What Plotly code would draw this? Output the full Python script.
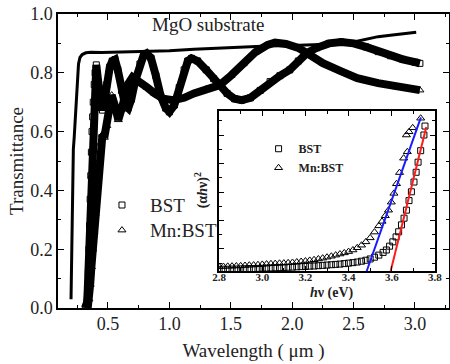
import plotly.graph_objects as go

# ---------------- main panel data ----------------
wl_mgo = [0.199, 0.205, 0.210, 0.215, 0.218, 0.225, 0.232, 0.240, 0.250, 0.260, 0.272, 0.290, 0.32, 0.36,
          0.45, 0.6, 0.8, 1.0, 1.2, 1.4, 1.6, 1.8, 2.0, 2.2, 2.4, 2.5, 2.6, 2.7, 2.8, 2.9, 3.0, 3.01]
t_mgo = [0.03, 0.20, 0.36, 0.50, 0.54, 0.58, 0.64, 0.71, 0.78, 0.83, 0.852, 0.862, 0.868, 0.870,
         0.869, 0.870, 0.872, 0.875, 0.880, 0.884, 0.888, 0.891, 0.893, 0.895, 0.899, 0.905, 0.915, 0.923,
         0.928, 0.932, 0.937, 0.938]

wl_bst = [0.315, 0.322, 0.330, 0.335, 0.340, 0.345, 0.350, 0.355, 0.360, 0.365, 0.370, 0.375, 0.380, 0.388,
          0.395, 0.405, 0.42, 0.44, 0.455, 0.47, 0.49, 0.515, 0.535, 0.557, 0.58, 0.61, 0.64, 0.665, 0.69,
          0.72, 0.76, 0.79, 0.815, 0.85, 0.89, 0.93, 0.97, 1.0, 1.04, 1.08, 1.12, 1.15, 1.18, 1.23, 1.3,
          1.36, 1.41, 1.47, 1.53, 1.59, 1.66, 1.74, 1.82, 1.9, 1.98, 2.05, 2.12, 2.2, 2.3, 2.4, 2.5, 2.6,
          2.7, 2.8, 2.9, 3.0, 3.04]
t_bst = [0.0, 0.005, 0.02, 0.06, 0.12, 0.20, 0.28, 0.37, 0.45, 0.53, 0.60, 0.65, 0.70, 0.76,
         0.80, 0.827, 0.77, 0.69, 0.673, 0.70, 0.76, 0.82, 0.84, 0.845, 0.81, 0.74, 0.69, 0.68, 0.71,
         0.77, 0.83, 0.86, 0.866, 0.85, 0.79, 0.72, 0.68, 0.667, 0.69, 0.75, 0.81, 0.84, 0.849, 0.84, 0.81,
         0.78, 0.758, 0.73, 0.712, 0.707, 0.715, 0.74, 0.77, 0.79, 0.81, 0.84, 0.867, 0.885, 0.90, 0.905,
         0.90, 0.888, 0.872, 0.858, 0.846, 0.836, 0.832]

wl_mn = [0.335, 0.345, 0.355, 0.365, 0.375, 0.385, 0.395, 0.405, 0.415, 0.425, 0.44, 0.455, 0.47, 0.49,
         0.51, 0.53, 0.555, 0.584, 0.62, 0.66, 0.70, 0.76, 0.82, 0.88, 0.95, 1.03, 1.12, 1.2, 1.3, 1.41,
         1.5, 1.6, 1.7, 1.8, 1.86, 1.95, 2.05, 2.12, 2.25, 2.4, 2.53, 2.7, 2.85, 3.04]
t_mn = [0.0, 0.03, 0.08, 0.14, 0.20, 0.26, 0.32, 0.38, 0.44, 0.50, 0.56, 0.59, 0.58, 0.62,
        0.69, 0.724, 0.69, 0.64, 0.69, 0.76, 0.785, 0.77, 0.75, 0.73, 0.712, 0.707, 0.715, 0.73, 0.745, 0.758,
        0.79, 0.83, 0.87, 0.895, 0.903, 0.898, 0.885, 0.867, 0.833, 0.805, 0.782, 0.765, 0.752, 0.741]

# ---------------- inset data ----------------
ev_bst = [2.80, 2.82, 2.84, 2.86, 2.88, 2.90, 2.92, 2.94, 2.96, 2.98, 3.00, 3.02, 3.04, 3.06, 3.08, 3.10,
          3.12, 3.14, 3.16, 3.18, 3.20, 3.22, 3.24, 3.26, 3.28, 3.30, 3.32, 3.34, 3.36, 3.38, 3.40, 3.42,
          3.44, 3.46, 3.48, 3.50, 3.52, 3.54, 3.56, 3.575, 3.59, 3.605, 3.62, 3.632, 3.645, 3.657, 3.668,
          3.68, 3.691, 3.703, 3.713, 3.722, 3.734, 3.749, 3.754]
a_bst = [0.010, 0.011, 0.011, 0.012, 0.012, 0.013, 0.014, 0.015, 0.015, 0.016, 0.017, 0.018, 0.019, 0.020,
         0.021, 0.022, 0.023, 0.024, 0.026, 0.027, 0.028, 0.030, 0.031, 0.033, 0.035, 0.037, 0.039, 0.041,
         0.043, 0.046, 0.049, 0.052, 0.056, 0.061, 0.067, 0.075, 0.086, 0.099, 0.116, 0.131, 0.155, 0.182,
         0.213, 0.245, 0.288, 0.330, 0.380, 0.44, 0.495, 0.556, 0.617, 0.68, 0.752, 0.85, 0.906]

ev_mn = [2.80, 2.82, 2.84, 2.86, 2.88, 2.90, 2.92, 2.94, 2.96, 2.98, 3.00, 3.02, 3.04, 3.06, 3.08, 3.10,
         3.12, 3.14, 3.16, 3.18, 3.20, 3.22, 3.24, 3.26, 3.28, 3.30, 3.32, 3.34, 3.36, 3.38, 3.40, 3.42,
         3.44, 3.46, 3.48, 3.50, 3.52, 3.54, 3.555, 3.57, 3.585, 3.598, 3.61, 3.622, 3.636, 3.655, 3.672,
         3.668, 3.68, 3.697, 3.734]
a_mn = [0.027, 0.028, 0.029, 0.030, 0.031, 0.032, 0.034, 0.036, 0.037, 0.039, 0.041, 0.043, 0.045, 0.046,
        0.048, 0.049, 0.051, 0.053, 0.056, 0.059, 0.062, 0.066, 0.070, 0.075, 0.080, 0.086, 0.092, 0.099,
        0.106, 0.113, 0.121, 0.131, 0.145, 0.161, 0.182, 0.207, 0.243, 0.282, 0.310, 0.345, 0.38, 0.43,
        0.485, 0.545, 0.615, 0.705, 0.745, 0.85, 0.87, 0.895, 0.955]

fit_bst_ev = [3.595, 3.76]
fit_bst_a = [0.0, 0.90]
fit_mn_ev = [3.484, 3.735]
fit_mn_a = [0.0, 0.96]

x_tick_vals = [0.5, 1.0, 1.5, 2.0, 2.5, 3.0]
x_tick_text = ["0.5", "1.0", "1.5", "2.0", "2.5", "3.0"]

SERIF = "Liberation Serif"

fig = go.Figure()
fig.add_trace(go.Scatter(x=wl_mgo, y=t_mgo, mode="lines", line=dict(color="black", width=3),
                         showlegend=False, hoverinfo="skip"))
fig.add_trace(go.Scatter(x=wl_bst, y=t_bst, mode="lines", line=dict(color="black", width=8),
                         showlegend=False, hoverinfo="skip"))
fig.add_trace(go.Scatter(x=wl_mn, y=t_mn, mode="lines", line=dict(color="black", width=8),
                         showlegend=False, hoverinfo="skip"))
fig.add_trace(go.Scatter(x=wl_bst, y=t_bst, mode="markers",
                         name="<span style='font-size:19px'>BST</span>",
                         marker=dict(symbol="square-open", size=6, color="black", line=dict(width=1)),
                         legend="legend"))
fig.add_trace(go.Scatter(x=wl_mn, y=t_mn, mode="markers",
                         name="<span style='font-size:19px'>Mn:BST</span>",
                         marker=dict(symbol="triangle-up-open", size=7, color="black", line=dict(width=1)),
                         legend="legend"))
fig.add_trace(go.Scatter(x=ev_bst, y=a_bst, mode="markers", xaxis="x2", yaxis="y2",
                         name="<span style='font-size:12px'><b>BST</b></span>",
                         marker=dict(symbol="square-open", size=6, color="black", line=dict(width=1)),
                         legend="legend2"))
fig.add_trace(go.Scatter(x=ev_mn, y=a_mn, mode="markers", xaxis="x2", yaxis="y2",
                         name="<span style='font-size:12px'><b>Mn:BST</b></span>",
                         marker=dict(symbol="triangle-up-open", size=7, color="black", line=dict(width=1)),
                         legend="legend2"))
fig.add_trace(go.Scatter(x=fit_bst_ev, y=fit_bst_a, mode="lines", xaxis="x2", yaxis="y2",
                         line=dict(color="#ff1a1a", width=2), showlegend=False))
fig.add_trace(go.Scatter(x=fit_mn_ev, y=fit_mn_a, mode="lines", xaxis="x2", yaxis="y2",
                         line=dict(color="#1a1aff", width=2), showlegend=False))

axis_common = dict(showline=True, linecolor="black", linewidth=1.5, mirror="ticks", ticks="inside",
                   tickcolor="black", showgrid=False, zeroline=False, automargin=False)

fig.update_layout(
    width=450, height=364,
    margin=dict(l=58, r=1, t=14, b=56),
    paper_bgcolor="white", plot_bgcolor="white",
    font=dict(family=SERIF, color="black"),
    xaxis=dict(domain=[0, 1], range=[0.093, 3.277], tickvals=x_tick_vals, ticktext=x_tick_text,
               ticklen=6, tickwidth=1.2,
               minor=dict(ticks="inside", dtick=0.25, tick0=0, ticklen=3, tickcolor="black"),
               tickfont=dict(family=SERIF, size=18, color="#222"),
               title=dict(text="Wavelength ( μm )", font=dict(family=SERIF, size=19, color="#222"), standoff=10),
               ticklabelstandoff=-1, **axis_common),
    yaxis=dict(domain=[0, 1], range=[0, 1.0], dtick=0.2, tickformat=".1f", ticklen=6, tickwidth=1.2,
               minor=dict(ticks="inside", dtick=0.1, ticklen=3, tickcolor="black"),
               tickfont=dict(family=SERIF, size=18, color="#222"),
               title=dict(text="Transmittance", font=dict(family=SERIF, size=19, color="#222"), standoff=2),
               ticklabelstandoff=0, **axis_common),
    xaxis2=dict(domain=[0.412, 0.964], anchor="y2", range=[2.8, 3.8], dtick=0.2, tickformat=".1f",
                ticklen=5, minor=dict(ticks="inside", dtick=0.1, ticklen=3, tickcolor="black"),
                tickfont=dict(family=SERIF, size=11, color="#222", weight="bold"), ticklabelstandoff=-5,
                **axis_common),
    yaxis2=dict(domain=[0.126, 0.670], anchor="x2", range=[0, 1.0], tick0=0.1375, dtick=0.178,
                showticklabels=False, ticklen=5,
                minor=dict(ticks="inside", tick0=0.1375, dtick=0.089, ticklen=3, tickcolor="black"),
                **axis_common),
    legend=dict(x=0.092, y=0.41, xanchor="left", yanchor="top", bgcolor="rgba(0,0,0,0)",
                font=dict(family=SERIF, size=17, color="#222"), itemwidth=46, tracegroupgap=0),
    legend2=dict(x=0.513, y=0.591, xanchor="left", yanchor="top", bgcolor="rgba(0,0,0,0)",
                 font=dict(family=SERIF, size=11, color="#222"), itemwidth=30),
    annotations=[
        dict(text="MgO substrate", xref="paper", yref="paper", x=0.384, y=0.963, xanchor="center",
             yanchor="middle", showarrow=False, font=dict(family=SERIF, size=19, color="#222")),
        dict(text="<b><i>h</i>ν (eV)</b>", xref="paper", yref="paper", x=0.70, y=0.051, xanchor="center",
             yanchor="middle", showarrow=False, font=dict(family=SERIF, size=14, color="#222")),
        dict(text="<b>(α<i>h</i>ν)<sup>2</sup></b>", xref="paper", yref="paper", x=0.368, y=0.40,
             xanchor="center", yanchor="middle", textangle=-90, showarrow=False,
             font=dict(family=SERIF, size=14, color="#222")),
    ],
)

fig.write_html("out.html", config={"displayModeBar": False},
               post_script="document.body.style.margin='0px';")
